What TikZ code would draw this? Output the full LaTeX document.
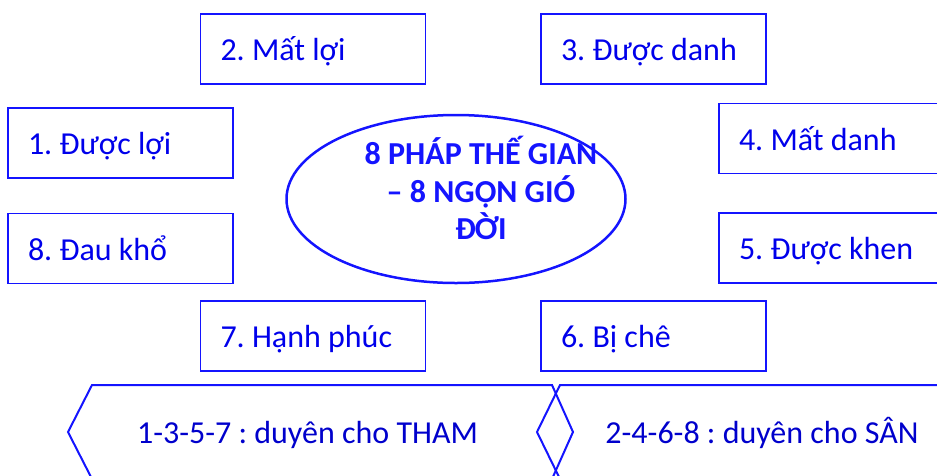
\documentclass[tikz,border=0pt]{standalone}
\usepackage{fontspec}
\setmainfont{Carlito}
\frenchspacing
\usetikzlibrary{positioning,shapes.geometric}
\definecolor{boxblue}{RGB}{20,20,255}
\definecolor{textblue}{RGB}{0,0,235}
\definecolor{darkblue}{RGB}{0,0,204}

\begin{document}
\begin{tikzpicture}[x=1pt, y=-1pt,
      font=\fontsize{32}{38}\selectfont,
      box/.style={draw=boxblue, line width=1.5pt, text=textblue,
         minimum width=225pt, minimum height=70pt, text width=185pt,
         inner xsep=20pt, inner ysep=0pt, align=flush left,
         text height=23.5pt, text depth=0.5pt},
      hexa/.style={draw=boxblue, line width=2pt},
      pair/.style={text=darkblue, text height=22pt, text depth=0pt},
      headline/.style={text=boxblue, align=center,
         font=\fontsize{32}{37.5}\selectfont\bfseries}]
      \path[use as bounding box] (0,0) rectangle (937,475);
      \clip (0,0) rectangle (937,475);

      % the eight winds
      \node[box, name=b2] at (313,49) {2. Mất lợi};
      \node[box, name=b3, right=114pt of b2] {3. Được danh};
      \node[box, name=b1] at (120.5,143) {1. Được lợi};
      \node[box, name=b8, below=34pt of b1] {8. Đau khổ};
      \node[box, name=b4] at (831.5,138.5) {4. Mất danh};
      \node[box, name=b5, below=38pt of b4] {5. Được khen};
      \node[box, name=b7] at (313,336) {7. Hạnh phúc};
      \node[box, name=b6, right=114pt of b7] {6. Bị chê};

      % middle
      \node[ellipse, draw=boxblue, line width=2.5pt, inner sep=0pt,
         minimum width=339pt, minimum height=168pt, name=wind] at (456,199) {};
      \node[headline, name=title] at ([xshift=25pt, yshift=11pt]wind.center)
         {8 PHÁP THẾ GIAN\\– 8 NGỌN GIÓ\\ĐỜI};

      % bottom
      \draw[hexa] (68,432) -- (92,385) -- (552,385) -- (573,432)
         -- (552,479) -- (92,479) -- cycle;
      \draw[hexa] (537,432) -- (560,385) -- (960,385) -- (984,432)
         -- (960,479) -- (560,479) -- cycle;
      \node[pair, name=tham] at (307.5,432) {1-3-5-7 : duyên cho THAM};
      \node[pair, name=san] at (762,432) {2-4-6-8 : duyên cho SÂN};
   \end{tikzpicture}
\end{document}
